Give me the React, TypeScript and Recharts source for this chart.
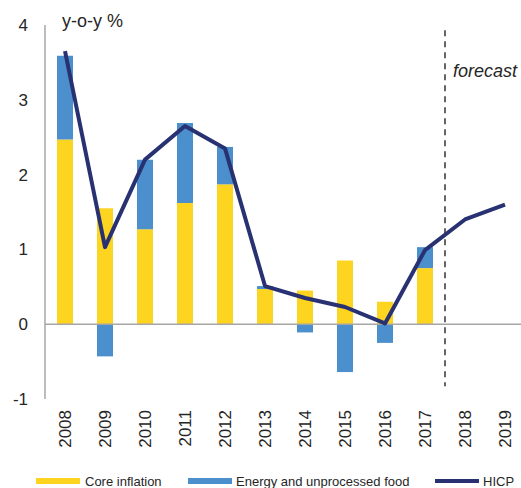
import React from "react";
import { ComposedChart, Bar, Line, XAxis, YAxis, ReferenceLine } from "recharts";

const years = ["2008", "2009", "2010", "2011", "2012", "2013", "2014", "2015", "2016", "2017", "2018", "2019"];
const coreInflation = [2.47, 1.55, 1.27, 1.62, 1.87, 0.47, 0.45, 0.85, 0.3, 0.75, null, null];
const energyFood = [1.12, -0.43, 0.93, 1.07, 0.5, 0.04, -0.11, -0.64, -0.25, 0.28, null, null];
const hicp = [3.65, 1.03, 2.2, 2.65, 2.35, 0.51, 0.35, 0.23, 0.01, 0.99, 1.4, 1.6];
const yTicks = [-1, 0, 1, 2, 3, 4];

const YELLOW = "#FDD520";
const BLUE = "#4C8FCD";
const NAVY = "#283272";
const GRID = "#A6A6A6";
const TEXT = "#262626";
const FONT = "'Liberation Sans', Arial, sans-serif";

const data = years.map((y, i) => ({
  year: y,
  core: coreInflation[i],
  energy: energyFood[i],
  hicp: hicp[i],
}));

function YearTick(props: any) {
  const { x, y, payload } = props;
  return (
    <text
      x={x}
      y={y}
      transform={`rotate(-90 ${x} ${y})`}
      textAnchor="end"
      dominantBaseline="central"
      fontSize={17}
      fontFamily={FONT}
      fill={TEXT}
    >
      {payload.value}
    </text>
  );
}

export default function App() {
  return (
    <div
      style={{
        position: "absolute",
        left: 0,
        top: 0,
        width: 521,
        height: 488,
        overflow: "hidden",
        background: "#fff",
        fontFamily: FONT,
        color: TEXT,
      }}
    >
      <ComposedChart
        width={525}
        height={488}
        data={data}
        stackOffset="sign"
        margin={{ top: 25, right: 0, left: 0, bottom: 29 }}
      >
        <XAxis
          dataKey="year"
          axisLine={false}
          tickLine={false}
          interval={0}
          height={60}
          tickSize={0}
          tickMargin={11}
          tick={<YearTick />}
        />
        <YAxis
          domain={[-1, 4]}
          ticks={yTicks}
          width={45}
          tickLine={false}
          tickSize={6}
          tickMargin={11}
          axisLine={{ stroke: GRID, strokeWidth: 1.5 }}
          tick={{ fontSize: 17, fill: TEXT, fontFamily: FONT }}
        />
        <ReferenceLine y={0} stroke={GRID} strokeWidth={1.5} />
        <Bar dataKey="core" stackId="a" fill={YELLOW} barSize={16} isAnimationActive={false} />
        <Bar dataKey="energy" stackId="a" fill={BLUE} barSize={16} isAnimationActive={false} />
        <ReferenceLine
          segment={[
            { x: "2017", y: 3.93 },
            { x: "2017", y: -0.83 },
          ]}
          position="end"
          stroke="#333"
          strokeWidth={1.5}
          strokeDasharray="6 5"
        />
        <Line
          dataKey="hicp"
          type="linear"
          stroke={NAVY}
          strokeWidth={4}
          dot={false}
          strokeLinejoin="round"
          isAnimationActive={false}
        />
      </ComposedChart>

      <div style={{ position: "absolute", left: 62, top: 11, fontSize: 18 }}>y-o-y %</div>
      <div style={{ position: "absolute", left: 453, top: 61, fontSize: 18, fontStyle: "italic" }}>
        forecast
      </div>

      <div
        style={{
          position: "absolute",
          top: 473,
          left: 0,
          width: 521,
          height: 16,
          fontSize: 13,
          display: "flex",
          alignItems: "center",
        }}
      >
        <span style={{ position: "absolute", left: 36, width: 44, height: 6, background: YELLOW }} />
        <span style={{ position: "absolute", left: 85 }}>Core inflation</span>
        <span style={{ position: "absolute", left: 188, width: 44, height: 6, background: BLUE }} />
        <span style={{ position: "absolute", left: 236 }}>Energy and unprocessed food</span>
        <span style={{ position: "absolute", left: 435, width: 44, height: 4, background: NAVY }} />
        <span style={{ position: "absolute", left: 483 }}>HICP</span>
      </div>
    </div>
  );
}
